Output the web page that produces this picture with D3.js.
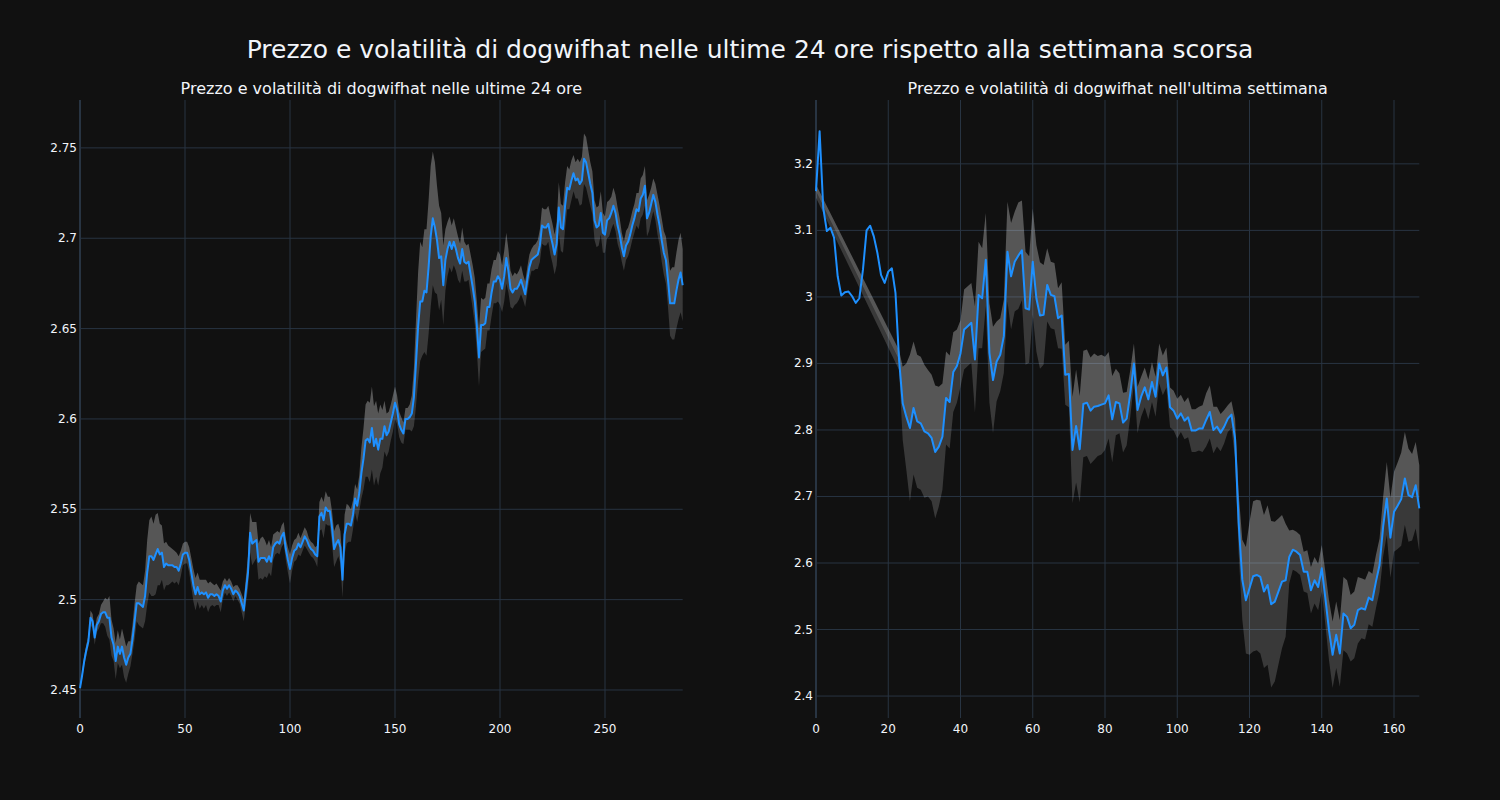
<!DOCTYPE html>
<html>
<head>
<meta charset="utf-8">
<script src="https://cdn.jsdelivr.net/npm/d3@7"></script>
<style>
  html, body { margin: 0; padding: 0; background: #111111; }
  svg { display: block; font-family: "DejaVu Sans", sans-serif; }
</style>
</head>
<body>
<svg id="viz" width="1500" height="800"></svg>
<script>
const mainTitle = "Prezzo e volatilità di dogwifhat nelle ultime 24 ore rispetto alla settimana scorsa";
const dayTitle = "Prezzo e volatilità di dogwifhat nelle ultime 24 ore";
const weekTitle = "Prezzo e volatilità di dogwifhat nell'ultima settimana";

// last 24h, 5-minute steps (index 0..287)
const dayPrice = [
  2.451,2.458,2.466,2.472,2.477,2.490,2.488,2.479,2.486,2.488,
  2.492,2.493,2.493,2.490,2.490,2.479,2.475,2.466,2.474,2.470,
  2.474,2.468,2.464,2.468,2.470,2.478,2.488,2.498,2.498,2.497,
  2.496,2.502,2.515,2.524,2.524,2.522,2.525,2.528,2.525,2.526,
  2.518,2.520,2.519,2.519,2.519,2.518,2.518,2.516,2.520,2.525,
  2.526,2.526,2.522,2.515,2.508,2.503,2.507,2.503,2.504,2.503,
  2.504,2.501,2.503,2.503,2.502,2.503,2.502,2.499,2.505,2.508,
  2.506,2.508,2.506,2.503,2.505,2.504,2.502,2.498,2.494,2.505,
  2.515,2.537,2.531,2.532,2.533,2.521,2.523,2.523,2.523,2.521,
  2.524,2.521,2.529,2.531,2.532,2.531,2.535,2.537,2.528,2.522,
  2.517,2.523,2.527,2.528,2.531,2.529,2.532,2.535,2.533,2.530,
  2.528,2.527,2.525,2.524,2.546,2.548,2.544,2.551,2.549,2.549,
  2.540,2.528,2.531,2.533,2.529,2.511,2.536,2.542,2.542,2.541,
  2.547,2.556,2.552,2.559,2.570,2.578,2.588,2.589,2.587,2.595,
  2.585,2.589,2.583,2.589,2.589,2.596,2.591,2.593,2.598,2.603,
  2.609,2.605,2.597,2.594,2.592,2.600,2.600,2.601,2.603,2.612,
  2.631,2.651,2.665,2.665,2.671,2.670,2.684,2.701,2.711,2.706,
  2.699,2.689,2.690,2.674,2.688,2.694,2.698,2.694,2.698,2.694,
  2.689,2.686,2.694,2.687,2.686,2.687,2.680,2.673,2.665,2.651,
  2.634,2.652,2.652,2.653,2.662,2.662,2.670,2.676,2.676,2.679,
  2.677,2.672,2.679,2.689,2.682,2.672,2.670,2.672,2.672,2.674,
  2.677,2.673,2.669,2.677,2.684,2.688,2.689,2.690,2.691,2.696,
  2.707,2.706,2.706,2.708,2.702,2.697,2.691,2.697,2.717,2.706,
  2.705,2.718,2.728,2.727,2.732,2.736,2.732,2.733,2.730,2.732,
  2.744,2.742,2.736,2.730,2.725,2.710,2.706,2.707,2.714,2.703,
  2.702,2.710,2.711,2.714,2.718,2.714,2.707,2.702,2.695,2.690,
  2.696,2.698,2.702,2.707,2.711,2.716,2.715,2.722,2.724,2.729,
  2.711,2.714,2.719,2.724,2.720,2.713,2.707,2.699,2.692,2.688,
  2.677,2.664,2.664,2.664,2.671,2.677,2.681,2.674
];
const dayVolatility = [
  0.001,0.002,0.003,0.003,0.003,0.004,0.004,0.004,0.004,0.004,
  0.005,0.006,0.008,0.010,0.012,0.010,0.009,0.010,0.009,0.008,
  0.010,0.011,0.010,0.009,0.007,0.008,0.010,0.010,0.012,0.012,
  0.012,0.014,0.018,0.020,0.022,0.020,0.022,0.020,0.017,0.015,
  0.013,0.012,0.011,0.010,0.009,0.009,0.008,0.008,0.007,0.006,
  0.006,0.006,0.007,0.008,0.009,0.009,0.008,0.008,0.007,0.008,
  0.007,0.008,0.007,0.006,0.006,0.006,0.005,0.006,0.005,0.004,
  0.004,0.004,0.004,0.004,0.003,0.004,0.004,0.005,0.006,0.007,
  0.009,0.011,0.012,0.011,0.010,0.010,0.011,0.012,0.010,0.009,
  0.009,0.008,0.007,0.006,0.006,0.006,0.006,0.006,0.006,0.007,
  0.008,0.007,0.006,0.006,0.006,0.005,0.005,0.005,0.005,0.004,
  0.004,0.004,0.004,0.006,0.008,0.009,0.010,0.009,0.008,0.008,
  0.009,0.010,0.010,0.009,0.009,0.010,0.011,0.011,0.010,0.009,
  0.008,0.008,0.009,0.010,0.014,0.017,0.020,0.021,0.022,0.023,
  0.022,0.021,0.020,0.019,0.016,0.014,0.012,0.011,0.010,0.010,
  0.009,0.008,0.007,0.007,0.006,0.006,0.006,0.007,0.010,0.016,
  0.024,0.030,0.033,0.030,0.034,0.035,0.037,0.039,0.037,0.036,
  0.030,0.029,0.024,0.022,0.017,0.015,0.014,0.013,0.013,0.012,
  0.012,0.011,0.012,0.011,0.010,0.010,0.011,0.012,0.013,0.014,
  0.016,0.015,0.014,0.014,0.013,0.013,0.013,0.012,0.012,0.014,
  0.014,0.013,0.014,0.014,0.012,0.010,0.009,0.009,0.008,0.008,
  0.008,0.007,0.007,0.007,0.007,0.006,0.007,0.007,0.008,0.009,
  0.010,0.010,0.010,0.010,0.011,0.011,0.011,0.012,0.014,0.013,
  0.013,0.013,0.012,0.011,0.011,0.010,0.010,0.011,0.012,0.013,
  0.014,0.014,0.013,0.012,0.012,0.011,0.011,0.011,0.012,0.011,
  0.010,0.010,0.010,0.009,0.010,0.010,0.010,0.009,0.008,0.008,
  0.008,0.008,0.008,0.008,0.008,0.009,0.010,0.011,0.011,0.011,
  0.010,0.010,0.009,0.009,0.010,0.011,0.011,0.012,0.012,0.013,
  0.015,0.018,0.020,0.020,0.021,0.022,0.022,0.020
];

// last week, hourly steps (index 0..167); null = no volatility value
const weekPrice = [
  3.159,3.249,3.134,3.099,3.104,3.089,3.031,3.002,3.007,3.008,
  3.001,2.991,2.998,3.041,3.100,3.107,3.091,3.066,3.033,3.021,
  3.038,3.043,3.006,2.905,2.840,2.820,2.803,2.833,2.813,2.810,
  2.798,2.795,2.788,2.767,2.775,2.790,2.848,2.842,2.887,2.896,
  2.915,2.951,2.956,2.961,2.906,3.003,2.998,3.056,2.916,2.875,
  2.903,2.913,2.941,3.068,3.031,3.053,3.062,3.070,2.983,2.981,
  3.053,2.998,2.972,2.973,3.018,3.003,3.001,2.968,2.972,2.883,
  2.884,2.770,2.806,2.771,2.839,2.841,2.829,2.835,2.836,2.838,
  2.840,2.852,2.816,2.842,2.840,2.811,2.817,2.855,2.900,2.830,
  2.850,2.864,2.846,2.872,2.850,2.900,2.882,2.894,2.834,2.829,
  2.817,2.825,2.814,2.819,2.799,2.799,2.802,2.802,2.815,2.827,
  2.800,2.805,2.796,2.805,2.817,2.823,2.787,2.660,2.575,2.544,
  2.562,2.580,2.582,2.579,2.557,2.567,2.538,2.542,2.557,2.572,
  2.574,2.609,2.620,2.617,2.612,2.587,2.587,2.559,2.574,2.564,
  2.592,2.547,2.499,2.462,2.492,2.464,2.524,2.519,2.502,2.507,
  2.529,2.532,2.530,2.548,2.544,2.572,2.597,2.655,2.697,2.638,
  2.677,2.686,2.696,2.727,2.702,2.699,2.717,2.682
];
const weekVolatility = [
  0.010,null,null,null,null,null,null,null,null,null,
  null,null,null,null,null,null,null,null,null,null,
  null,null,null,0.015,0.055,0.080,0.110,0.100,0.100,0.100,
  0.100,0.095,0.095,0.100,0.090,0.080,0.070,0.070,0.060,0.055,
  0.050,0.060,0.060,0.060,0.080,0.080,0.075,0.070,0.075,0.080,
  0.060,0.055,0.055,0.075,0.080,0.075,0.080,0.075,0.085,0.080,
  0.080,0.080,0.080,0.075,0.055,0.050,0.050,0.045,0.050,0.045,
  0.050,0.080,0.085,0.080,0.080,0.080,0.080,0.080,0.075,0.075,
  0.070,0.065,0.065,0.050,0.045,0.045,0.040,0.035,0.030,0.035,
  0.030,0.030,0.030,0.030,0.030,0.030,0.030,0.030,0.030,0.030,
  0.030,0.028,0.028,0.030,0.032,0.032,0.033,0.035,0.040,0.040,
  0.035,0.030,0.028,0.025,0.020,0.020,0.030,0.045,0.060,0.080,
  0.100,0.113,0.113,0.115,0.115,0.120,0.125,0.120,0.110,0.100,
  0.085,0.040,0.030,0.030,0.030,0.030,0.032,0.035,0.035,0.035,
  0.035,0.040,0.045,0.050,0.050,0.050,0.055,0.055,0.050,0.050,
  0.050,0.045,0.045,0.040,0.040,0.040,0.040,0.045,0.055,0.060,
  0.060,0.065,0.070,0.070,0.070,0.065,0.065,0.065
];

const dayYTicks = [2.45, 2.5, 2.55, 2.6, 2.65, 2.7, 2.75];
const weekYTicks = [2.4, 2.5, 2.6, 2.7, 2.8, 2.9, 3.0, 3.1, 3.2];
const dayXTicks = [0, 50, 100, 150, 200, 250];
const weekXTicks = [0, 20, 40, 60, 80, 100, 120, 140, 160];

const svg = d3.select("#viz");
const W = 1500, H = 800;
const textColor = "#f2f5fa";
const gridColor = "#283442";
const lineColor = "#1e90ff";

svg.append("rect").attr("width", W).attr("height", H).attr("fill", "#111111");

svg.append("text")
  .attr("x", 750).attr("y", 58)
  .attr("text-anchor", "middle")
  .attr("fill", textColor)
  .style("font-size", "25px")
  .text(mainTitle);

const fmt = d3.format(".2~f");

function panel(opts) {
  const { left, right, top, bottom, price, vol, xMax, yDomain, xTicks, yTicks, title } = opts;
  const x = d3.scaleLinear().domain([0, xMax]).range([left, right]);
  const y = d3.scaleLinear().domain(yDomain).range([bottom, top]);
  const g = svg.append("g");

  g.append("text")
    .attr("x", (left + right) / 2).attr("y", 94)
    .attr("text-anchor", "middle")
    .attr("fill", textColor)
    .style("font-size", "16px")
    .text(title);

  // grid
  g.selectAll(".gx").data(xTicks).join("line")
    .attr("x1", d => x(d)).attr("x2", d => x(d))
    .attr("y1", top).attr("y2", bottom)
    .attr("stroke", gridColor).attr("stroke-width", d => d === 0 ? 2 : 1);
  g.selectAll(".gy").data(yTicks).join("line")
    .attr("x1", left).attr("x2", right)
    .attr("y1", d => y(d)).attr("y2", d => y(d))
    .attr("stroke", gridColor).attr("stroke-width", 1);

  // volatility band: light above the price, darker below
  const pts = price.map((p, i) => ({ i, p, v: vol[i] })).filter(d => d.v != null);
  g.append("path").datum(pts)
    .attr("d", d3.area().x(d => x(d.i)).y0(d => y(d.p)).y1(d => y(d.p + d.v)))
    .attr("fill", "rgba(255,255,255,0.29)");
  g.append("path").datum(pts)
    .attr("d", d3.area().x(d => x(d.i)).y0(d => y(d.p - d.v)).y1(d => y(d.p)))
    .attr("fill", "rgba(255,255,255,0.17)");

  // price
  g.append("path").datum(price)
    .attr("d", d3.line().x((d, i) => x(i)).y(d => y(d)))
    .attr("fill", "none")
    .attr("stroke", lineColor)
    .attr("stroke-width", 2)
    .attr("stroke-linejoin", "round");

  // tick labels
  g.selectAll(".xl").data(xTicks).join("text")
    .attr("x", d => x(d)).attr("y", bottom + 15)
    .attr("text-anchor", "middle")
    .attr("fill", textColor)
    .style("font-size", "12px")
    .text(d => d);
  g.selectAll(".yl").data(yTicks).join("text")
    .attr("x", left - 3).attr("y", d => y(d) + 4)
    .attr("text-anchor", "end")
    .attr("fill", textColor)
    .style("font-size", "12px")
    .text(d => fmt(d));
}

panel({
  left: 80, right: 682.7, top: 100, bottom: 718,
  price: dayPrice, vol: dayVolatility, xMax: 287,
  yDomain: [2.4345, 2.7765], xTicks: dayXTicks, yTicks: dayYTicks, title: dayTitle
});
panel({
  left: 816, right: 1419.3, top: 100, bottom: 718,
  price: weekPrice, vol: weekVolatility, xMax: 167,
  yDomain: [2.367, 3.296], xTicks: weekXTicks, yTicks: weekYTicks, title: weekTitle
});
</script>
</body>
</html>
